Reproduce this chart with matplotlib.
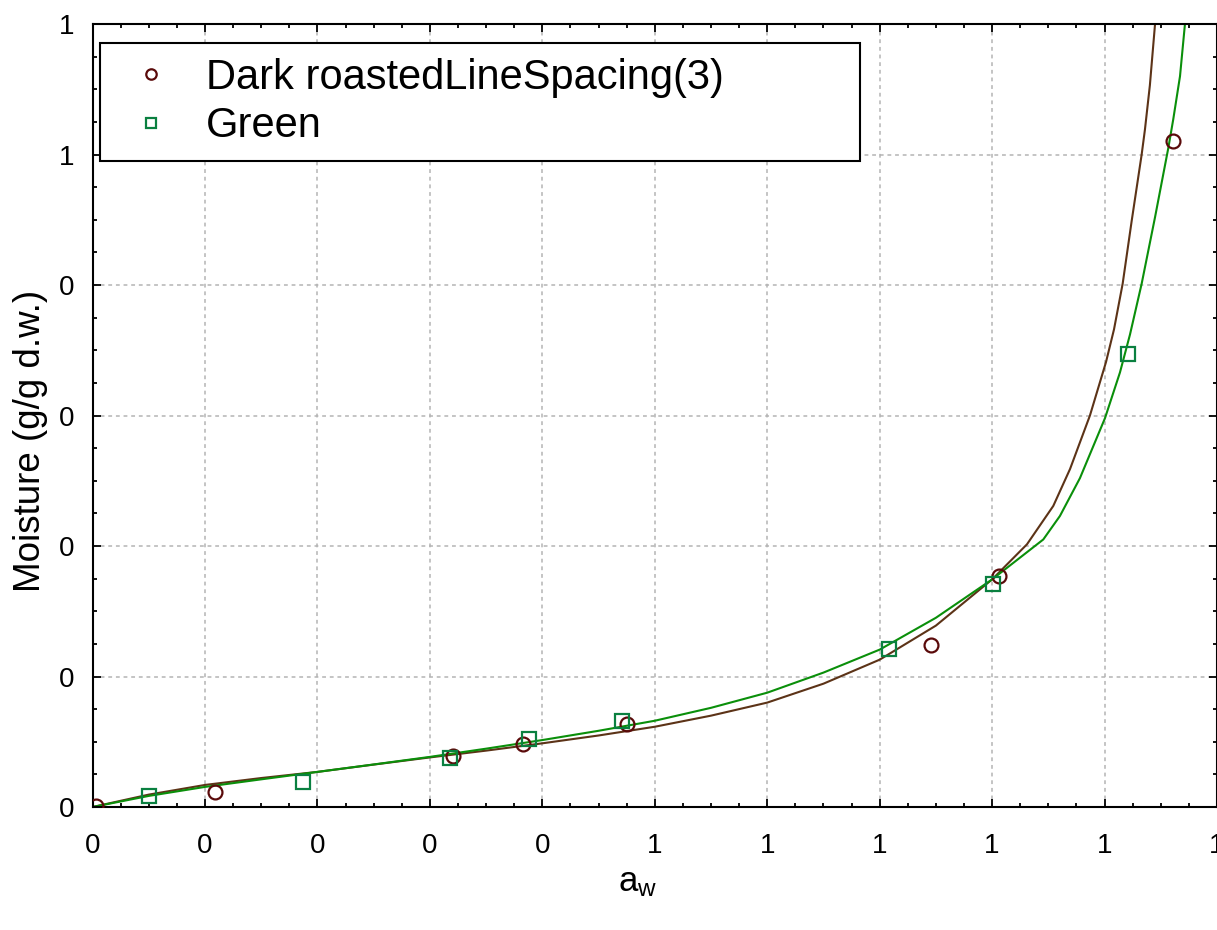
import numpy as np
import matplotlib
matplotlib.use("Agg")
import matplotlib.pyplot as plt
from matplotlib.ticker import MultipleLocator, FixedLocator, FixedFormatter

plt.rcParams['font.family'] = ['Liberation Sans', 'DejaVu Sans']
plt.rcParams['mathtext.fontset'] = 'custom'
plt.rcParams['mathtext.rm'] = 'Liberation Sans'
plt.rcParams['mathtext.it'] = 'Liberation Sans'

# measured points
dark_aw = [0.003, 0.109, 0.3205, 0.383, 0.475, 0.746, 0.806, 0.961]
dark_m = [0.0008, 0.0115, 0.0392, 0.0484, 0.0638, 0.1245, 0.1767, 0.510]
green_aw = [0.0502, 0.187, 0.318, 0.388, 0.471, 0.708, 0.801, 0.921]
green_m = [0.0085, 0.0192, 0.0376, 0.0522, 0.0661, 0.1214, 0.1705, 0.3472]

# fitted curves
dark_fit_aw = [0.0, 0.05, 0.1, 0.15, 0.2, 0.25, 0.3, 0.35, 0.4, 0.45, 0.5, 0.55,
               0.6, 0.65, 0.7, 0.75, 0.8, 0.831, 0.8544, 0.8693, 0.887, 0.9013,
               0.9084, 0.9161, 0.9241, 0.933, 0.9359, 0.9403, 0.9449]
dark_fit_m = [0.0, 0.0095, 0.0169, 0.0222, 0.0269, 0.0325, 0.0380, 0.0432, 0.0488,
              0.0548, 0.0615, 0.070, 0.0800, 0.0945, 0.1129, 0.139, 0.1744, 0.2013,
              0.2307, 0.259, 0.300, 0.341, 0.366, 0.401, 0.449, 0.500, 0.519,
              0.553, 0.600]
green_fit_aw = [0.0, 0.05, 0.1, 0.15, 0.2, 0.25, 0.3, 0.35, 0.4, 0.45, 0.5, 0.55,
                0.6, 0.65, 0.7, 0.75, 0.8, 0.8455, 0.8603, 0.8781, 0.9004, 0.9137,
                0.9226, 0.933, 0.9449, 0.9567, 0.9611, 0.9671, 0.9715]
green_fit_m = [0.0, 0.0085, 0.0154, 0.0212, 0.0269, 0.0326, 0.0384, 0.0447, 0.0513,
               0.0584, 0.0661, 0.076, 0.0876, 0.103, 0.1206, 0.145, 0.1744, 0.205,
               0.223, 0.252, 0.298, 0.333, 0.362, 0.401, 0.452, 0.505, 0.527,
               0.560, 0.600]

x_ticks = [0.0, 0.1, 0.2, 0.3, 0.4, 0.5, 0.6, 0.7, 0.8, 0.9, 1.0]
x_labels = ['0', '0', '0', '0', '0', '1', '1', '1', '1', '1', '1']
y_ticks = [0.0, 0.1, 0.2, 0.3, 0.4, 0.5, 0.6]
y_labels = ['0', '0', '0', '0', '0', '1', '1']

fig = plt.figure(figsize=(12.17, 9.30), dpi=100)
ax = fig.add_axes([92.6 / 1217, 123 / 930, (1217 - 92.6) / 1217, 783 / 930])

ax.plot(dark_fit_aw, dark_fit_m, color='#5c3317', lw=1.5, zorder=2)
ax.plot(green_fit_aw, green_fit_m, color='#0a8f0a', lw=1.5, zorder=2)
ax.plot(dark_aw, dark_m, 'o', ms=10, mfc='none', mec='#5a0a0a', mew=1.6,
        label='Dark roastedLineSpacing(3)', zorder=3)
ax.plot(green_aw, green_m, 's', ms=10, mfc='none', mec='#0a8040', mew=1.6,
        label='Green', zorder=3)

ax.set_xlim(0, 1)
ax.set_ylim(0, 0.6)
ax.xaxis.set_major_locator(FixedLocator(x_ticks))
ax.xaxis.set_major_formatter(FixedFormatter(x_labels))
ax.yaxis.set_major_locator(FixedLocator(y_ticks))
ax.yaxis.set_major_formatter(FixedFormatter(y_labels))
ax.xaxis.set_minor_locator(MultipleLocator(0.025))
ax.yaxis.set_minor_locator(MultipleLocator(0.025))
ax.tick_params(which='both', direction='in', top=True, right=True, labelsize=20,
               width=1.3)
ax.tick_params(axis='x', which='major', pad=19)
ax.tick_params(axis='y', which='major', pad=13)
ax.tick_params(which='major', length=6)
ax.tick_params(which='minor', length=3)
for s in ax.spines.values():
    s.set_linewidth(1.5)

ax.grid(True, which='major', color='#b4b4b4', ls=(0, (2.5, 2.5)), lw=1.1)

ax.set_xlabel(r'a$_\mathregular{w}$', fontsize=25)
ax.set_ylabel('Moisture (g/g d.w.)', fontsize=26.5)
ax.xaxis.set_label_coords(0.485, -0.075)
ax.yaxis.set_label_coords(-0.040, 0.467)

leg = ax.legend(loc='upper left', bbox_to_anchor=(0.0066, 0.976, 0.676, 0.0),
                mode='expand', fontsize=30, frameon=True, fancybox=False,
                edgecolor='black', framealpha=1, borderaxespad=0,
                handlelength=1.72, handletextpad=0.46, labelspacing=0.2,
                borderpad=0.36, markerscale=0.75)
leg.get_frame().set_linewidth(1.5)

fig.savefig('out.png', dpi=100)
